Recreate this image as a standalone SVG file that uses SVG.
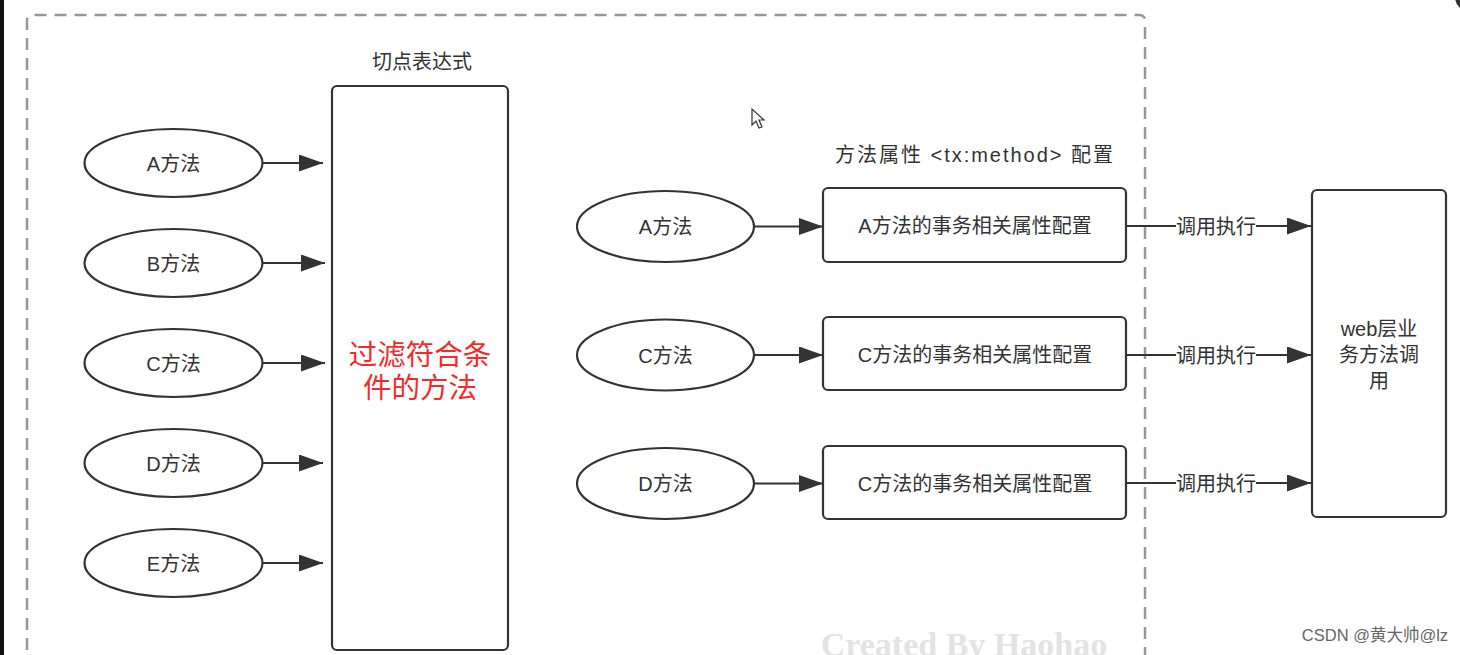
<svg xmlns="http://www.w3.org/2000/svg" width="1460" height="655" viewBox="0 0 1460 655">
<style>
.t{font-family:"Liberation Sans","Noto Sans CJK SC",sans-serif;fill:#333;text-anchor:middle;dominant-baseline:central}
.n{font-size:20px}
.node{fill:#fff;stroke:#333;stroke-width:2.2}
.edge{stroke:#333;stroke-width:2.2;fill:none}
.lbl{fill:#fff}
</style>
<defs>
<marker id="ah" markerWidth="24" markerHeight="17" refX="24" refY="8.5" orient="auto" markerUnits="userSpaceOnUse">
<path d="M0,0 L24,8.5 L0,17 Z" fill="#333"/>
</marker>
</defs>
<rect x="0" y="0" width="1460" height="655" fill="#fff"/>
<rect x="0" y="0" width="4" height="655" fill="#111"/>
<circle cx="1469" cy="-3" r="14" fill="#333"/>
<path d="M27,650 L27,21 Q27,15 33,15 L1139,15 Q1145,15 1145,21 L1145,660" fill="none" stroke="#999" stroke-width="2.5" stroke-dasharray="12 8"/>

<g id="title-pointcut"><text class="t" x="422" y="62" font-size="20">切点表达式</text></g>
<g id="filter">
<rect class="node" x="332" y="86" width="176" height="564" rx="5"/>
<text class="t" x="420" y="355" font-size="28.5" style="fill:#f52a2a">过滤符合条</text>
<text class="t" x="420" y="388" font-size="28.5" style="fill:#f52a2a">件的方法</text>
</g>
<g id="lA"><ellipse class="node" cx="173.5" cy="163" rx="89" ry="34"/><text class="t n" x="173.5" y="164">A方法</text></g>
<g id="lB"><ellipse class="node" cx="173.5" cy="263" rx="89" ry="34"/><text class="t n" x="173.5" y="264">B方法</text></g>
<g id="lC"><ellipse class="node" cx="173.5" cy="363" rx="89" ry="34"/><text class="t n" x="173.5" y="364">C方法</text></g>
<g id="lD"><ellipse class="node" cx="173.5" cy="463" rx="89" ry="34"/><text class="t n" x="173.5" y="464">D方法</text></g>
<g id="lE"><ellipse class="node" cx="173.5" cy="563" rx="89" ry="34"/><text class="t n" x="173.5" y="564">E方法</text></g>

<g id="title-method"><text class="t" x="974" y="155" font-size="20" textLength="278" lengthAdjust="spacing">方法属性 &lt;tx:method&gt; 配置</text></g>
<g id="rA"><ellipse class="node" cx="665.5" cy="226.5" rx="88.5" ry="35.5"/><text class="t n" x="665.5" y="227">A方法</text></g>
<g id="rC"><ellipse class="node" cx="665.5" cy="355" rx="88.5" ry="35.5"/><text class="t n" x="665.5" y="356">C方法</text></g>
<g id="rD"><ellipse class="node" cx="665.5" cy="483.5" rx="88.5" ry="35.5"/><text class="t n" x="665.5" y="484">D方法</text></g>
<g id="cfgA"><rect class="node" x="823" y="188" width="303" height="74" rx="5"/><text class="t n" x="975" y="226">A方法的事务相关属性配置</text></g>
<g id="cfgC"><rect class="node" x="823" y="317" width="303" height="73" rx="5"/><text class="t n" x="975" y="355">C方法的事务相关属性配置</text></g>
<g id="cfgD"><rect class="node" x="823" y="446" width="303" height="73" rx="5"/><text class="t n" x="975" y="484">C方法的事务相关属性配置</text></g>
<g id="web">
<rect class="node" x="1312" y="190" width="134" height="327" rx="5"/>
<text class="t n" x="1379" y="329">web层业</text>
<text class="t n" x="1379" y="355">务方法调</text>
<text class="t n" x="1379" y="381">用</text>
</g>

<g id="connectors">
<line class="edge" x1="263" y1="163" x2="323" y2="163" marker-end="url(#ah)"/>
<line class="edge" x1="263" y1="263" x2="325" y2="263" marker-end="url(#ah)"/>
<line class="edge" x1="263" y1="363" x2="325" y2="363" marker-end="url(#ah)"/>
<line class="edge" x1="263" y1="463" x2="323" y2="463" marker-end="url(#ah)"/>
<line class="edge" x1="263" y1="563" x2="323" y2="563" marker-end="url(#ah)"/>
<line class="edge" x1="754" y1="226.5" x2="823" y2="226.5" marker-end="url(#ah)"/>
<line class="edge" x1="754" y1="355" x2="823" y2="355" marker-end="url(#ah)"/>
<line class="edge" x1="754" y1="483.5" x2="823" y2="483.5" marker-end="url(#ah)"/>
<line class="edge" x1="1126" y1="226" x2="1311" y2="226" marker-end="url(#ah)"/>
<line class="edge" x1="1126" y1="355" x2="1311" y2="355" marker-end="url(#ah)"/>
<line class="edge" x1="1126" y1="483" x2="1311" y2="483" marker-end="url(#ah)"/>
<rect class="lbl" x="1176" y="215" width="80" height="22"/>
<rect class="lbl" x="1176" y="344" width="80" height="22"/>
<rect class="lbl" x="1176" y="472" width="80" height="22"/>
<text class="t" x="1216" y="227" font-size="20">调用执行</text>
<text class="t" x="1216" y="356" font-size="20">调用执行</text>
<text class="t" x="1216" y="484" font-size="20">调用执行</text>
</g>

<path d="M752,109 L752,125 L756,121 L759,128 L762,127 L759,120 L764,120 Z" fill="#fff" stroke="#333" stroke-width="1.2"/>
<text x="964" y="656" font-family="Liberation Serif,serif" font-weight="bold" font-size="34" fill="#e3e3e3" text-anchor="middle">Created By Haohao</text>
<text x="1375" y="641" font-family="Liberation Sans,'Noto Sans CJK SC',sans-serif" font-size="16.5" fill="#666" text-anchor="middle">CSDN @黄大帅@lz</text>
</svg>
